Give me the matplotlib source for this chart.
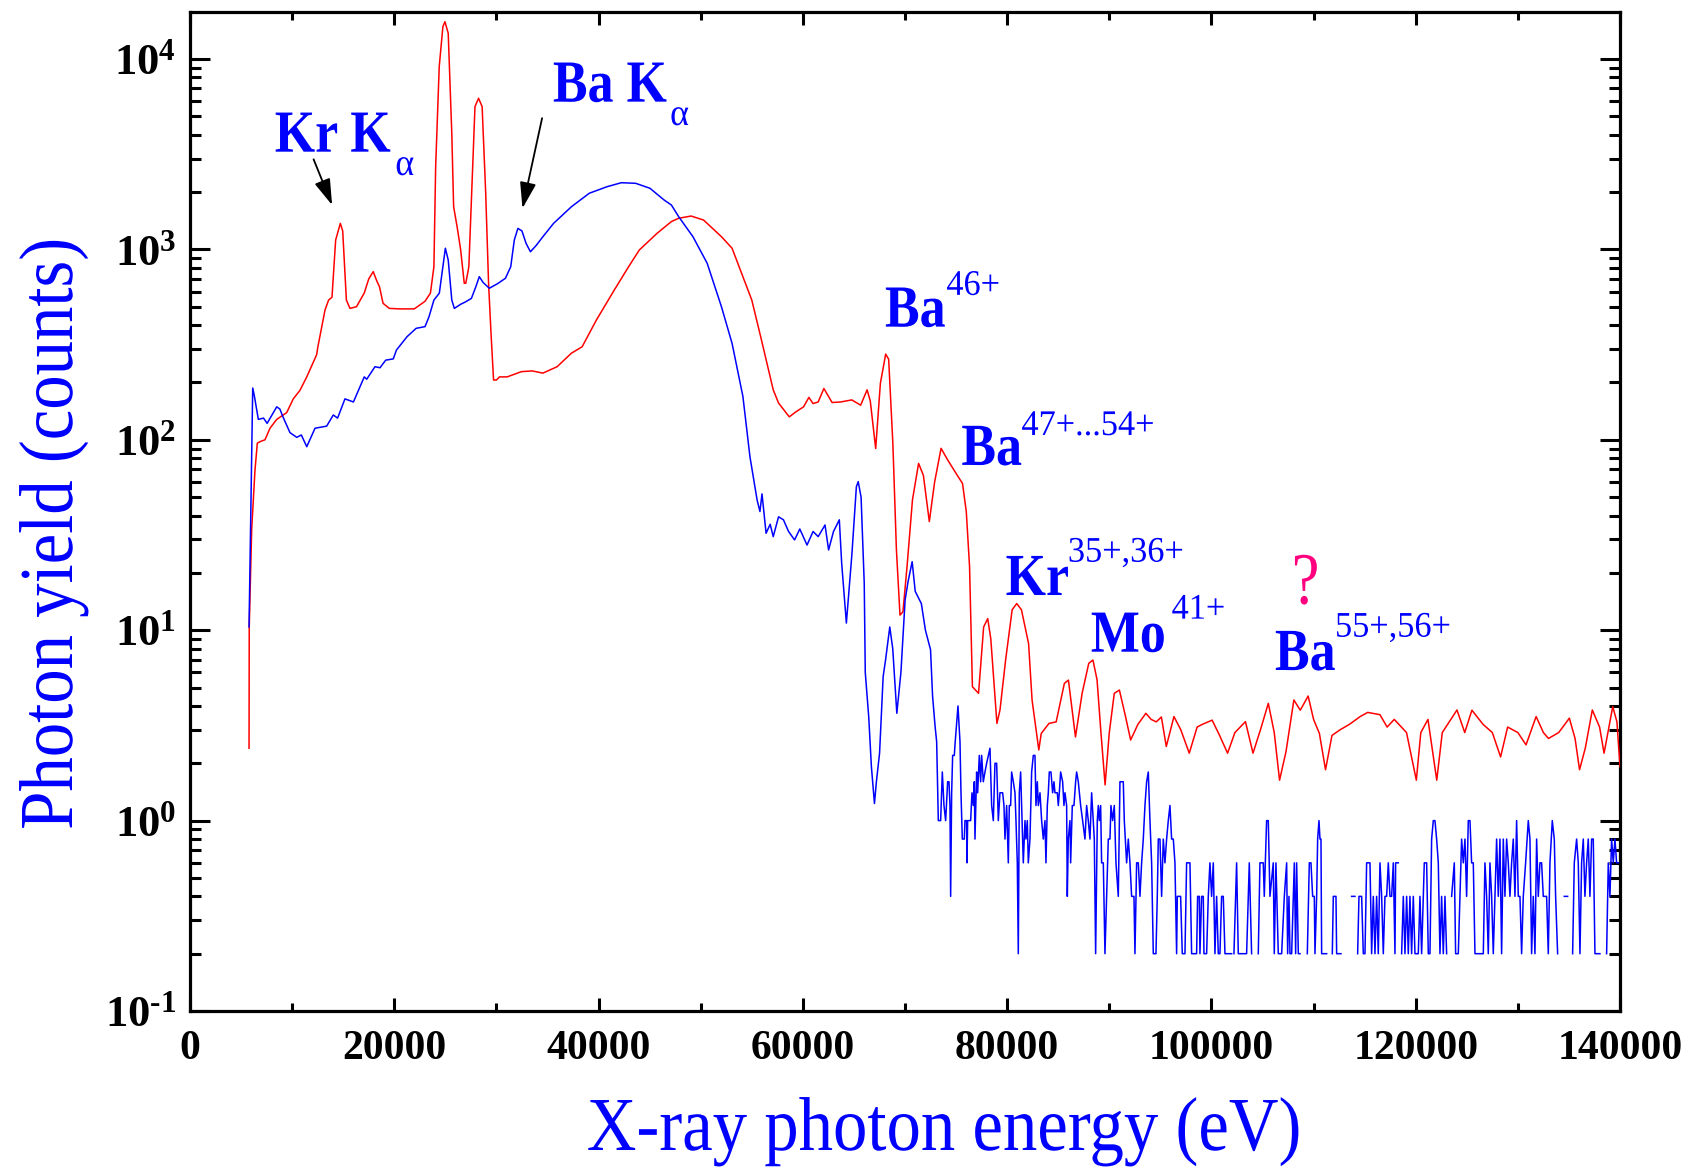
import numpy as np
import matplotlib
matplotlib.use("Agg")
import matplotlib.pyplot as plt
from matplotlib.patheffects import AbstractPathEffect
from matplotlib.transforms import Affine2D
from matplotlib.ticker import FixedLocator, FuncFormatter, NullFormatter

plt.rcParams['font.family'] = ['Liberation Serif', 'DejaVu Serif']
plt.rcParams['font.weight'] = 'bold'
plt.rcParams['mathtext.fontset'] = 'custom'
plt.rcParams['mathtext.rm'] = 'Liberation Serif:bold'
plt.rcParams['mathtext.bf'] = 'Liberation Serif:bold'
plt.rcParams['mathtext.it'] = 'Liberation Serif:italic:bold'
plt.rcParams['mathtext.default'] = 'rm'

# ---------------------------------------------------------------- spectra
# red spectrum: photon energy (eV) and yield (counts)
red_energy = [
    5780, 5800, 6040, 6360, 6590, 6900, 7340, 7830, 8490, 9470,
    10110, 10770, 11430, 12400, 12520, 13220, 13570, 13900, 14260, 14720,
    14950, 15310, 15660, 16300, 17060, 17500, 17940, 18300, 18550, 18900,
    19510, 20500, 21960, 23010, 23540, 23880, 24050, 24400, 24760, 24960,
    25280, 25630, 25810, 26150, 26500, 26850, 27000, 27300, 27550, 27900,
    28250, 28600, 28950, 29230, 29470, 29720, 30000, 30300, 31050, 32450,
    33500, 34550, 35940, 37340, 38390, 39790, 41540, 42940, 43990, 45730,
    47130, 47840, 49060, 50280, 52030, 53070, 54130, 55000, 55870, 56570,
    57100, 57620, 58670, 59300, 60070, 60590, 61000, 61500, 62060, 62860,
    63700, 64790, 65660, 66290, 66600, 67130, 67590, 68110, 68400, 68810,
    69160, 69510, 69800, 70200, 70730, 71330, 71800, 72380, 72900, 73530,
    74200, 75100, 75630, 76000, 76320, 76600, 77200, 77700, 78100, 78400,
    79000, 79300, 79850, 80490, 80940, 81400, 82100, 82440, 83100, 83340,
    84100, 84800, 85600, 86000, 86690, 87340, 87990, 88400, 88800, 89190,
    89590, 90000, 90490, 90990, 91590, 92090, 92800, 93580, 94100, 94600,
    95100, 95580, 96330, 97000, 97830, 98600, 99100, 100070, 100800, 101580,
    102300, 103330, 104070, 104800, 105570, 106150, 106670, 107300, 108070, 108700,
    109470, 110000, 110570, 111170, 111800, 112600, 113500, 114570, 115300, 116500,
    117200, 117900, 118600, 119100, 120060, 120500, 121200, 122060, 122600, 124040,
    124800, 125500, 126600, 127500, 128310, 129000, 130000, 130800, 131790, 132500,
    133000, 134000, 135040, 135600, 136040, 136600, 137290, 138000, 138440, 139290,
    139700, 140000,
]
red_counts = [
    2.4, 10.4, 34, 69, 96, 98, 100, 115, 128, 139,
    164, 182, 214, 280, 308, 481, 542, 560, 1120, 1370,
    1250, 542, 490, 500, 590, 700, 764, 680, 637, 521,
    490, 487, 487, 534, 590, 811, 2716, 9120, 14800, 15700,
    13640, 4070, 1675, 1315, 993, 664, 664, 811, 1815, 5620,
    6220, 5620, 1973, 664, 363, 206, 206, 214, 214, 228,
    230, 224, 242, 285, 308, 426, 612, 811, 993, 1215,
    1400, 1457, 1497, 1426, 1166, 1014, 719, 542, 348, 242,
    183, 156, 132, 140, 149, 167, 155, 158, 186, 157,
    158, 162, 152, 183, 160, 90, 198, 282, 265, 96,
    26.4, 12, 12.5, 21.6, 48.3, 75.2, 65, 37.2, 60, 90.2,
    78, 65.3, 59, 42, 21.6, 5.05, 4.66, 10.4, 11.5, 9,
    3.24, 3.81, 6.97, 12.8, 13.8, 12.8, 8.5, 4.3, 2.35, 2.87,
    3.24, 3.3, 5.25, 5.47, 2.75, 4.66, 6.7, 6.97, 5.5, 2.87,
    1.54, 2.9, 4.66, 4.85, 3.52, 2.65, 3.2, 3.66, 3.4, 3.3,
    3.5, 2.45, 3.52, 3.0, 2.26, 3.1, 3.2, 3.37, 2.8, 2.26,
    2.9, 3.31, 2.26, 3.0, 4.13, 2.9, 1.63, 2.3, 4.3, 3.8,
    4.51, 3.4, 2.87, 1.85, 2.8, 3.0, 3.2, 3.52, 3.7, 3.6,
    3.1, 3.4, 3.1, 2.9, 1.63, 2.9, 3.4, 1.63, 2.9, 3.81,
    2.9, 3.8, 3.2, 2.9, 2.16, 3.1, 2.9, 2.5, 3.52, 2.9,
    2.7, 2.9, 3.45, 2.7, 1.85, 2.4, 3.81, 3.1, 2.26, 3.97,
    3.3, 1.92,
]

# blue spectrum, continuum part
blue_energy = [
    5780, 6140, 6300, 6690, 7200, 7550, 8490, 8800, 9100, 9790,
    10450, 10900, 11430, 12240, 13380, 14030, 14450, 15170, 16000, 17060,
    17300, 18110, 18600, 19160, 19900, 20210, 21250, 22140, 23010, 23400,
    23880, 24410, 24760, 25000, 25280, 25630, 25880, 26500, 27000, 27550,
    28000, 28320, 28700, 29300, 30100, 30880, 31400, 31750, 32100, 32500,
    32900, 33330, 33900, 34550, 35600, 37340, 39090, 40840, 42230, 43630,
    45030, 46430, 47130, 47840, 49240, 50630, 52030, 53070, 54130, 54820,
    55520, 55800, 56000, 56400, 56800, 57100, 57620, 58100, 58600, 59190,
    59700, 60410, 61000, 61500, 62170, 62520, 63000, 63570, 63800, 64260,
    64800, 65240, 65420, 65700, 66010, 66110, 66450, 66710, 67010, 67200,
    67510, 67860, 68100, 68510, 68800, 69200, 69600, 70010, 70300, 70700,
    71000, 71600, 72000, 72500, 72700, 72950,
]
blue_counts = [
    10.4, 187, 170, 128, 130, 122, 149, 145, 132, 109,
    103, 106, 92, 115, 118, 135, 130, 164, 158, 214,
    208, 242, 239, 262, 266, 296, 348, 385, 393, 443,
    542, 589, 811, 1014, 880, 542, 490, 515, 531, 553,
    640, 719, 670, 625, 660, 705, 811, 1120, 1289, 1250,
    1076, 972, 1050, 1166, 1371, 1675, 1972, 2135, 2240, 2224,
    2094, 1815, 1710, 1486, 1166, 846, 500, 321, 169, 81.5,
    48.3, 42, 52, 32.3, 36, 31, 39.4, 38, 33, 29.8,
    34, 28, 33, 31, 35.7, 26.4, 33, 38, 22.5, 10.9,
    25, 56.7, 60.3, 50, 17.6, 6.0, 3.5, 1.92, 1.23, 1.6,
    2.26, 5.7, 7.0, 10.4, 8.0, 3.66, 6.0, 14.4, 18, 22.9,
    16, 13.8, 10, 7.9, 4.5, 3.11,
]

# blue spectrum, low-count tail (zero counts leave gaps on the log axis)
blue_tail_energy = [
    73099, 73262, 73490, 73653, 73816, 73980, 74175, 74306, 74404, 74469,
    74567, 74665, 74828, 74893, 75187, 75383, 75481, 75611, 75807, 75872,
    76035, 76068, 76133, 76427, 76557, 76688, 76786, 76851, 77014, 77112,
    77275, 77406, 77504, 77667, 77830, 77993, 78319, 78483, 78646, 78809,
    78972, 79135, 79298, 79559, 79690, 79788, 79951, 80114, 80212, 80342,
    80440, 80604, 80767, 80865, 80995, 81093, 81191, 81321, 81419, 81582,
    81746, 81843, 81974, 82072, 82235, 82398, 82561, 82724, 82822, 82953,
    83051, 83214, 83377, 83540, 83703, 83801, 83932, 84030, 84128, 84291,
    84454, 84584, 84682, 84911, 85009, 85107, 85237, 85433, 85563, 85661,
    85824, 85890, 85987, 86151, 86216, 86379, 86542, 86705, 86803, 86966,
    87195, 87391, 87619, 87782, 87945, 88108, 88272, 88435, 88533, 88663,
    88826, 88924, 89022, 89153, 89250, 89414, 89577, 89740, 89903, 90066,
    90164, 90327, 90490, 90654, 90882, 91045, 91208, 91371, 91469, 91698,
    91861, 92024, 92187, 92416, 92513, 92677, 92840, 93003, 93166, 93329,
    93492, 93656, 93819, 93982, 94145, 94308, 94569, 94700, 94798, 94961,
    95124, 95287, 95450, 95613, 95776, 95940, 96103, 96266, 96429, 96592,
    96657, 96984, 97147, 97408, 97571, 97897, 98061, 98550, 98648, 98811,
    98876, 99039, 99203, 99268, 99529, 99692, 99855, 100018, 100182, 100345,
    100508, 100671, 100834, 100997, 101160, 101324, 101976, 102074, 102205, 102466,
    102629, 103445, 103706, 103934, 104260, 104587, 104750, 105076, 105174, 105402,
    105566, 105729, 106055, 106153, 106316, 106545,
    106875, 107136, 107364, 107462, 107592, 107690, 107854, 108017, 108115, 108245,
    108343, 108506, 108669, 108832, 109387, 109583, 109746, 109909, 110072, 110138,
    110301, 110399, 110529, 110627, 110725, 110790, 111280, 111541, 111834, 111932,
    112193, 112259, 112683, 113205, 113727, 114053, 114184, 114314, 114445, 114706,
    114869, 115032, 115195, 115522, 115685, 115848, 116011, 116174, 116337, 116500,
    116664, 116827, 116990, 117153, 117316, 117479, 117643, 117806, 117969, 118034,
    118295, 118458, 118621, 118785, 118948, 119111, 119274, 119437, 119600, 119763,
    119927, 120253, 120416, 120579, 120840, 121069, 121232, 121395, 121558, 121721,
    121884, 122048, 122211, 122374, 122537, 122700, 122863, 123026, 123255, 123516,
    123777, 123907, 124169, 124332, 124495, 124658, 124821, 124984, 125147, 125311,
    125474, 125637, 125800, 126616, 126779, 126942, 127105, 127268, 127432, 127595,
    127758, 127921, 128084, 128247, 128410, 128574, 128737, 128900, 129063, 129226,
    129389, 129552, 129716, 129879, 130042, 130205, 130368, 130531, 130760, 131021,
    131184, 131347, 131510, 131673, 131837, 132000, 132163, 132326, 132489, 132815,
    132979, 133142, 133370, 133566, 133697, 133893, 134219, 134545, 134871, 135100,
    135361, 135524, 135753, 135916, 136079, 136242, 136405, 136568, 136731, 136894,
    137057, 137221, 137384, 137547, 138036, 138363, 138689, 138852, 139015, 139178,
    139341, 139504, 139667, 139830,
]
blue_tail_counts = [
    2.6, 1.0, 1.0, 1.8, 1.2, 1.0, 1.6, 1.6, 1.2, 0.4,
    1.4, 2.2, 2.2, 2.5, 4.0, 2.6, 1.4, 0.8, 0.8, 1.0,
    1.0, 0.6, 1.0, 1.0, 1.4, 1.2, 1.6, 0.8, 1.8, 1.4,
    2.2, 1.6, 2.2, 1.6, 1.8, 2.0, 2.4, 1.2, 1.0, 2.0,
    2.0, 1.0, 1.4, 1.4, 1.2, 0.8, 1.2, 0.6, 1.2, 1.2,
    1.8, 1.6, 1.4, 1.0, 0.6, 0.2, 1.4, 1.8, 1.2, 0.6,
    1.0, 0.8, 1.0, 0.6, 0.8, 1.8, 2.2, 2.2, 1.2, 1.6,
    1.2, 1.4, 1.0, 0.8, 1.0, 0.6, 1.2, 1.4, 1.8, 1.8,
    1.4, 1.6, 1.4, 1.4, 1.2, 1.4, 1.8, 1.6, 1.2, 1.4,
    1.2, 0.4, 0.8, 1.0, 0.6, 1.2, 1.2, 1.6, 1.8, 1.6,
    1.2, 1.0, 0.8, 1.2, 1.0, 0.8, 1.4, 1.0, 0.8, 0.2,
    1.0, 1.2, 1.0, 1.2, 0.6, 0.6, 0.2, 0.4, 0.8, 0.8,
    1.2, 1.0, 1.2, 0.6, 0.4, 1.6, 1.6, 1.6, 1.0, 0.6,
    0.8, 0.6, 0.4, 0.4, 0.2, 0.6, 0.6, 0.4, 0.6, 0.8,
    1.2, 1.6, 1.8, 1.0, 0.6, 0.2, 0.2, 0.4, 0.8, 0.8,
    0.4, 0.8, 0.6, 0.8, 1.0, 1.2, 0.8, 0.8, 0.6, 0.2,
    0.4, 0.4, 0.2, 0.2, 0.6, 0.6, 0.2, 0.2, 0.4, 0.4,
    0.2, 0.4, 0.4, 0.2, 0.2, 0.4, 0.6, 0.4, 0.6, 0.2,
    0.4, 0.2, 0.2, 0.4, 0.4, 0.2, 0.2, 0, 0.2, 0.6,
    0.2, 0.2, 0.6, 0.2, 0, 0.2, 0.6, 0.6, 0.4, 1.0,
    1.0, 0.4, 0.6, 0.2, 0.6, 0.2,
    0.2, 0.4, 0.6, 0.2, 0.4, 0.2, 0.2, 0.4, 0.6, 0.2,
    0.6, 0.2, 0.2, 0, 0.2, 0.6, 0.6, 0.4, 0.4, 0.2,
    0.4, 0.8, 1.0, 0.8, 0.8, 0.2, 0.2, 0, 0.2, 0.4,
    0.4, 0.2, 0.2, 0, 0.4, 0.4, 0, 0.2, 0.4, 0.4,
    0.2, 0.2, 0.6, 0.6, 0.2, 0.4, 0.2, 0.4, 0.2, 0.6,
    0.4, 0.2, 0.4, 0.4, 0.6, 0.4, 0.4, 0.6, 0.2, 0.6,
    0.6, 0, 0.2, 0.4, 0.2, 0.4, 0.2, 0.4, 0.2, 0.4,
    0.2, 0.2, 0.4, 0.2, 0.6, 0.6, 0.2, 0.2, 0.8, 1.0,
    1.0, 0.8, 0.6, 0.2, 0.4, 0.2, 0.4, 0.2, 0, 0.4,
    0.6, 0.2, 0.2, 0.4, 0.8, 0.6, 0.8, 0.4, 1.0, 1.0,
    0.6, 0.6, 0.2, 0.2, 0.6, 0.4, 0.2, 0.6, 0.4, 0.2,
    0.4, 0.8, 0.4, 0.8, 0.2, 0.8, 0.4, 0.8, 0.6, 0.4,
    0.6, 0.8, 0.4, 1.0, 0.4, 0.4, 0.2, 0.4, 0.6, 1.0,
    0.8, 0.2, 0.4, 0.2, 0.8, 0.4, 0.6, 0.6, 0.4, 0.4,
    0.2, 0.6, 1.0, 0.8, 0.4, 0.2, 0, 0.4, 0.4, 0,
    0.2, 0.6, 0.8, 0.6, 0.2, 0.6, 0.8, 0.4, 0.6, 0.8,
    0.4, 0.8, 0.8, 0.2, 0.2, 0, 0.2, 0.6, 0.4, 0.8,
    0.6, 0.8, 0.6, 0.6,
]

# axis ticks
x_major_ticks = [0, 20000, 40000, 60000, 80000, 100000, 120000, 140000]
x_minor_ticks = [10000, 30000, 50000, 70000, 90000, 110000, 130000]
y_major_ticks = [0.1, 1, 10, 100, 1000, 10000]

assert len(red_energy) == len(red_counts)
assert len(blue_energy) == len(blue_counts)
assert len(blue_tail_energy) == len(blue_tail_counts)


class Tall(AbstractPathEffect):
    """Draw text glyphs stretched across the writing direction (narrow face look)."""

    def __init__(self, sy=1.15):
        super().__init__()
        self.sy = sy

    def draw_path(self, renderer, gc, tpath, affine, rgbFace=None):
        renderer.draw_path(gc, tpath, Affine2D().scale(1, self.sy) + affine,
                           rgbFace)


RED = '#ff0000'
BLUE = '#0000ff'
PINK = '#ff0080'

W, H = 1690, 1168
fig = plt.figure(figsize=(W / 100, H / 100), dpi=100)
ax = fig.add_axes([190 / W, 1 - 1011 / H, 1430 / W, (1011 - 11.5) / H])
ax.set_yscale('log', nonpositive='mask')

red_e = np.asarray(red_energy, float)
red_c = np.asarray(red_counts, float)
blue_e = np.concatenate([blue_energy, blue_tail_energy]).astype(float)
blue_c = np.concatenate([blue_counts, blue_tail_counts]).astype(float)
blue_c = np.where(blue_c > 0, blue_c, np.nan)

ax.plot(red_e, red_c, color=RED, lw=1.1, zorder=3)
ax.plot(blue_e, blue_c, color=BLUE, lw=1.1, zorder=4)

ax.set_xlim(0, 140000)
ax.set_ylim(0.1, 17760)

ax.xaxis.set_major_locator(FixedLocator(x_major_ticks))
ax.xaxis.set_minor_locator(FixedLocator(x_minor_ticks))
ax.xaxis.set_major_formatter(FuncFormatter(lambda v, p: f'{int(round(v))}'))
ax.yaxis.set_major_locator(FixedLocator(y_major_ticks))
y_minor = [m * 10.0 ** k for k in range(-1, 5) for m in range(2, 10)]
ax.yaxis.set_minor_locator(FixedLocator(y_minor))
ax.yaxis.set_minor_formatter(NullFormatter())


def decade_label(v, pos):
    k = int(round(np.log10(v)))
    exp = r'\text{-}%d' % (-k) if k < 0 else '%d' % k
    return r'$10^{%s}$' % exp


ax.yaxis.set_major_formatter(FuncFormatter(decade_label))

ax.tick_params(which='both', direction='in', top=True, right=True,
               width=2.2, color='black')
ax.tick_params(axis='x', which='major', length=9.5, pad=14, labelsize=30)
ax.tick_params(axis='x', which='minor', length=6)
ax.tick_params(axis='y', which='major', length=14.5, pad=10, labelsize=32)
ax.tick_params(axis='y', which='minor', length=8)
for sp in ax.spines.values():
    sp.set_linewidth(2.3)

# axis titles
fig.text(944 / W, 1 - 1150 / H, 'X-ray photon energy (eV)', fontsize=49.5,
         fontweight='normal', color=BLUE, ha='center', va='baseline',
         path_effects=[Tall(1.11)])
fig.text(72 / W, 1 - 534 / H, 'Photon yield (counts)', fontsize=49.5,
         fontweight='normal', color=BLUE, rotation=90, rotation_mode='anchor',
         ha='center', va='baseline', path_effects=[Tall(1.11)])


def tag(x, y, s, size=37.4, weight='bold', color=BLUE, sy=1.15):
    ax.text(x, y, s, fontsize=size, fontweight=weight, color=color,
            ha='left', va='baseline', zorder=6, clip_on=False,
            path_effects=[Tall(sy)])


def sup(x, y, s):
    tag(x, y, s, size=24.7, weight='normal', sy=1.05)


# line identifications
tag(8300, 3260, 'Kr K')
tag(20100, 2460, 'α', size=26, weight='normal', sy=1.05)
tag(35530, 5970, 'Ba K')
tag(47000, 4500, 'α', size=26, weight='normal', sy=1.05)

tag(68040, 393, 'Ba')
sup(74050, 577, '46+')
tag(75520, 73.8, 'Ba')
sup(81400, 106, '47+...54+')
tag(79850, 15.3, 'Kr')
sup(85950, 22.9, '35+,36+')
tag(88190, 7.71, 'Mo')
sup(96100, 11.5, '41+')
tag(106220, 6.18, 'Ba')
sup(112100, 9.25, '55+,56+')
tag(107860, 13.8, '?', size=45, weight='normal', color=PINK, sy=1.18)

arrow_style = dict(arrowstyle='-|>,head_length=0.8,head_width=0.25',
                   color='black', lw=1.3, mutation_scale=20,
                   shrinkA=0, shrinkB=0)
ax.annotate('', xy=(13912, 1710), xytext=(12100, 2972), arrowprops=arrow_style,
            zorder=6)
ax.annotate('', xy=(32551, 1644), xytext=(34470, 4887), arrowprops=arrow_style,
            zorder=6)

fig.savefig('out.png', dpi=100)
